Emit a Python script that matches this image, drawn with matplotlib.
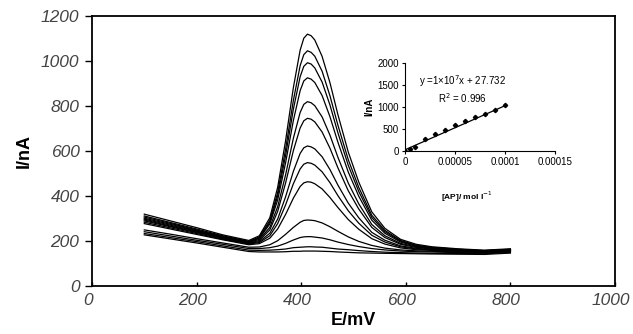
import matplotlib
matplotlib.use('Agg')
import matplotlib.pyplot as plt
import matplotlib.transforms as mtransforms
import numpy as np

plt.rcParams['font.family'] = ['Liberation Sans', 'DejaVu Sans']

# potential grid (mV) shared by all voltammograms
E = [100, 150, 200, 250, 300, 320, 340, 355, 370, 385, 398, 405, 412, 419,
     426, 440, 455, 470, 490, 510, 535, 560, 590, 620, 650, 700, 750, 800]

# currents (nA), one list per concentration
c1 = [318, 288, 258, 226, 201, 222, 302, 437, 642, 880, 1047, 1100, 1118, 1111,
      1092, 1019, 902, 762, 594, 461, 328, 255, 206, 184, 173, 164, 158, 164]
c2 = [310, 281, 252, 222, 197, 217, 290, 414, 604, 823, 978, 1027, 1044, 1037,
      1020, 953, 844, 715, 560, 437, 313, 246, 201, 180, 170, 162, 156, 162]
c3 = [305, 277, 248, 219, 195, 213, 282, 399, 576, 784, 929, 975, 991, 985,
      968, 905, 803, 681, 535, 419, 303, 240, 198, 178, 169, 160, 155, 161]
c4 = [300, 273, 245, 217, 195, 211, 274, 381, 544, 734, 867, 910, 924, 918,
      903, 845, 751, 639, 505, 398, 291, 233, 194, 175, 167, 159, 154, 160]
c5 = [296, 269, 242, 214, 192, 206, 259, 351, 491, 655, 770, 806, 818, 813,
      800, 750, 669, 572, 456, 364, 272, 222, 188, 172, 165, 158, 153, 159]
c6 = [292, 265, 239, 212, 189, 201, 248, 330, 455, 600, 701, 733, 744, 740,
      728, 683, 611, 525, 422, 341, 259, 214, 184, 170, 163, 156, 152, 158]
c7 = [288, 262, 236, 210, 188, 196, 233, 296, 394, 508, 588, 613, 621, 617,
      608, 573, 516, 448, 367, 302, 237, 202, 177, 166, 160, 155, 151, 157]
c8 = [282, 257, 232, 207, 185, 192, 222, 276, 358, 453, 519, 540, 547, 544,
      536, 506, 458, 401, 333, 278, 224, 194, 173, 163, 159, 154, 150, 156]
c9 = [276, 252, 228, 204, 182, 187, 211, 252, 316, 389, 441, 457, 462, 460,
      453, 430, 392, 348, 294, 251, 209, 185, 168, 160, 157, 152, 149, 155]
c10 = [248, 229, 209, 190, 171, 172, 182, 200, 228, 259, 282, 290, 292, 291,
       289, 279, 262, 242, 217, 197, 179, 167, 159, 155, 153, 150, 147, 153]
c11 = [240, 221, 202, 184, 165, 165, 169, 176, 188, 203, 214, 217, 218, 218,
       216, 212, 204, 194, 183, 174, 165, 159, 154, 151, 150, 147, 145, 151]
c12 = [232, 214, 196, 177, 158, 157, 158, 160, 163, 169, 171, 172, 173, 173,
       172, 171, 167, 163, 160, 156, 152, 149, 147, 145, 144, 143, 142, 148]
c13 = [226, 208, 190, 171, 152, 150, 150, 150, 151, 153, 153, 154, 154, 154,
       154, 153, 152, 150, 148, 146, 145, 144, 143, 142, 141, 140, 139, 145]
curves = [c1, c2, c3, c4, c5, c6, c7, c8, c9, c10, c11, c12, c13]

# calibration inset
conc = [0, 0.000005, 0.00001, 0.00002, 0.00003, 0.00004, 0.00005,
        0.00006, 0.00007, 0.00008, 0.00009, 0.0001]
peak_i = [0, 55, 90, 273, 379, 477, 590, 682, 765, 841, 932, 1045]
slope = 1e7
intercept = 27.732

fig = plt.figure(figsize=(6.33, 3.34), dpi=100)
ax = fig.add_axes([0.1453, 0.1446, 0.8263, 0.8084])

for c in curves:
    ax.plot(E, c, color='black', lw=0.9)

ax.set_xlim(0, 1000)
ax.set_ylim(0, 1200)
ax.set_xticks([0, 200, 400, 600, 800, 1000])
ax.set_yticks([0, 200, 400, 600, 800, 1000, 1200])
ax.tick_params(axis='x', direction='in', length=3, width=1, pad=5,
               labelsize=12.5, labelcolor='#444444')
ax.tick_params(axis='y', direction='out', length=5, width=1, pad=4,
               labelsize=12.5, labelcolor='#444444')
shift = mtransforms.ScaledTranslation(-4 / 100, 0, fig.dpi_scale_trans)
for lab in ax.get_xticklabels():
    lab.set_fontstyle('italic')
    lab.set_transform(lab.get_transform() + shift)
for lab in ax.get_yticklabels():
    lab.set_fontstyle('italic')
for sp in ax.spines.values():
    sp.set_linewidth(1.3)
ax.set_xlabel('E/mV', fontsize=13, fontweight='bold', labelpad=3)
ax.set_ylabel('I/nA', fontsize=13, fontweight='bold', labelpad=6)

# inset
ins = fig.add_axes([0.640, 0.548, 0.237, 0.264])
ins.plot(conc, peak_i, 'D', color='black', ms=2.2)
xx = np.array([0, conc[-1]])
ins.plot(xx, slope * xx + intercept, color='black', lw=0.9)
ins.set_xlim(0, 0.00015)
ins.set_ylim(0, 2000)
ins.set_xticks([0, 0.00005, 0.0001, 0.00015])
ins.set_xticklabels(['0', '0.00005', '0.0001', '0.00015'])
ins.set_yticks([0, 500, 1000, 1500, 2000])
ins.spines['top'].set_visible(False)
ins.spines['right'].set_visible(False)
ins.tick_params(direction='out', length=2.5, width=0.8, labelsize=7, pad=2)
ins.set_ylabel('I/nA', fontsize=7, fontweight='bold', labelpad=2)
ins.set_xlabel('[AP]/ mol l$^{-1}$', fontsize=6, fontweight='bold')
ins.xaxis.set_label_coords(0.41, -0.44)
ins.text(0.38, 0.79, 'y =1×10$^{7}$x + 27.732', transform=ins.transAxes,
         ha='center', va='center', fontsize=7)
ins.text(0.38, 0.60, 'R$^{2}$ = 0.996', transform=ins.transAxes,
         ha='center', va='center', fontsize=7)

fig.savefig('out.png', dpi=100)
